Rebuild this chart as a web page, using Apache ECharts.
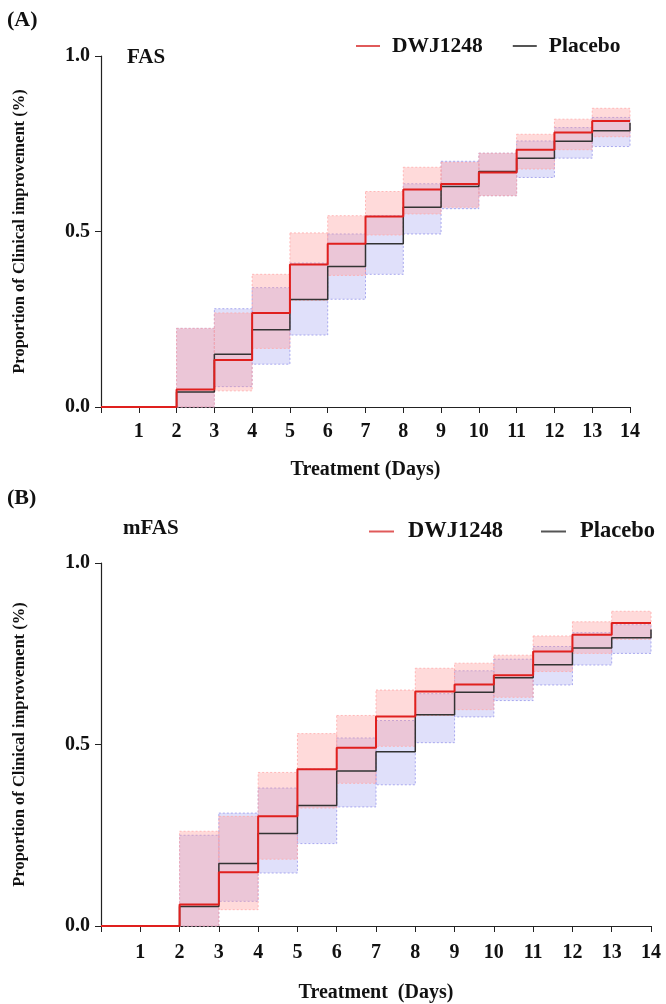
<!DOCTYPE html>
<html lang="en">

<head>
    <meta charset="UTF-8">
    <title>Clinical improvement</title>
    <script src="https://cdn.jsdelivr.net/npm/echarts@6/dist/echarts.min.js"></script>
    <style>
        body {
            margin: 0;
            background: #fff;
        }

        #main {
            width: 666px;
            height: 1004px;
        }
    </style>
</head>

<body>
    <div id="main"></div>
    <script>
        // 天数 0..14，每个值对应区间 [d, d+1)
        const days = [0, 1, 2, 3, 4, 5, 6, 7, 8, 9, 10, 11, 12, 13, 14];
        // 置信区间从第2天开始 (第2天..第13天)
        const ciDays = [2, 3, 4, 5, 6, 7, 8, 9, 10, 11, 12, 13];

        // (A) FAS
        const dwjA = [0, 0, 0.05, 0.134, 0.268, 0.406, 0.465, 0.543, 0.62, 0.635, 0.668, 0.733, 0.782, 0.815, 0.815];
        const plaA = [0, 0, 0.043, 0.15, 0.22, 0.306, 0.40, 0.465, 0.569, 0.628, 0.671, 0.709, 0.757, 0.787, 0.81];
        const dwjLoA = [0, 0.046, 0.167, 0.304, 0.375, 0.49, 0.55, 0.569, 0.602, 0.678, 0.733, 0.77];
        const dwjHiA = [0.224, 0.268, 0.378, 0.496, 0.545, 0.614, 0.683, 0.697, 0.723, 0.777, 0.82, 0.851];
        const plaLoA = [0, 0.058, 0.122, 0.205, 0.307, 0.378, 0.493, 0.565, 0.602, 0.654, 0.709, 0.742];
        const plaHiA = [0.224, 0.28, 0.34, 0.41, 0.493, 0.545, 0.636, 0.70, 0.723, 0.758, 0.796, 0.825];

        // (B) mFAS
        const dwjB = [0, 0, 0.059, 0.148, 0.302, 0.432, 0.491, 0.577, 0.646, 0.665, 0.691, 0.756, 0.802, 0.835, 0.835];
        const plaB = [0, 0, 0.054, 0.172, 0.255, 0.332, 0.427, 0.48, 0.582, 0.644, 0.684, 0.72, 0.766, 0.794, 0.817];
        const dwjLoB = [0, 0.045, 0.184, 0.325, 0.393, 0.495, 0.58, 0.596, 0.63, 0.701, 0.751, 0.79];
        const dwjHiB = [0.261, 0.302, 0.423, 0.53, 0.58, 0.65, 0.71, 0.724, 0.746, 0.799, 0.838, 0.867];
        const plaLoB = [0, 0.068, 0.146, 0.227, 0.328, 0.389, 0.505, 0.576, 0.621, 0.664, 0.719, 0.751];
        const plaHiB = [0.25, 0.311, 0.38, 0.432, 0.518, 0.566, 0.64, 0.703, 0.735, 0.77, 0.808, 0.83];

        const FONT = "'Liberation Serif', 'Times New Roman', serif";
        const RED = '#e0201e';
        const BLACK = '#333333';

        const chart = echarts.init(document.getElementById('main'), null, { renderer: 'canvas' });

        function pairs(xs, ys) {
            return xs.map((x, i) => [x, ys[i]]);
        }

        function bandData(lo, hi) {
            return ciDays.map((d, i) => [d, lo[i], hi[i]]);
        }

        // 每天画一个带点线边框的矩形
        function makeBand(fill, stroke) {
            return function (params, api) {
                const d = api.value(0);
                const p1 = api.coord([d, api.value(2)]);
                const p2 = api.coord([d + 1, api.value(1)]);
                return {
                    type: 'rect',
                    shape: { x: p1[0], y: p1[1], width: p2[0] - p1[0], height: p2[1] - p1[1] },
                    style: { fill: fill, stroke: stroke, lineWidth: 1, lineDash: [2, 2] }
                };
            };
        }

        function xAxis(gridIndex, name, margin, gap) {
            return {
                type: 'value', gridIndex: gridIndex, min: 0, max: 14, interval: 1,
                name: name, nameLocation: 'middle', nameGap: gap,
                nameTextStyle: { fontFamily: FONT, fontWeight: 'bold', fontSize: 20, color: '#111' },
                axisLine: { lineStyle: { color: '#222', width: 1.2 } },
                axisTick: { length: 6, lineStyle: { color: '#222' } },
                axisLabel: {
                    margin: margin, fontFamily: FONT, fontWeight: 'bold', fontSize: 20, color: '#111',
                    formatter: v => v === 0 ? '' : String(v)
                },
                splitLine: { show: false }
            };
        }

        function yAxis(gridIndex) {
            return {
                type: 'value', gridIndex: gridIndex, min: 0, max: 1, interval: 0.5,
                name: 'Proportion of Clinical improvement (%)', nameLocation: 'middle', nameGap: 73,
                nameTextStyle: { fontFamily: FONT, fontWeight: 'bold', fontSize: 16.5, color: '#111' },
                axisLine: { show: true, lineStyle: { color: '#222', width: 1.2 } },
                axisTick: { show: true, length: 6, lineStyle: { color: '#222' } },
                axisLabel: {
                    margin: 11, fontFamily: FONT, fontWeight: 'bold', fontSize: 20, color: '#111',
                    formatter: v => v.toFixed(1)
                },
                splitLine: { show: false }
            };
        }

        function panelSeries(idx, dwj, pla, dLo, dHi, pLo, pHi) {
            return [
                {
                    type: 'custom', xAxisIndex: idx, yAxisIndex: idx, silent: true,
                    renderItem: makeBand('rgba(100,100,230,0.2)', 'rgba(150,150,235,0.8)'),
                    data: bandData(pLo, pHi), z: 1
                },
                {
                    type: 'custom', xAxisIndex: idx, yAxisIndex: idx, silent: true,
                    renderItem: makeBand('rgba(255,150,150,0.35)', 'rgba(255,170,170,0.8)'),
                    data: bandData(dLo, dHi), z: 2
                },
                {
                    name: 'Placebo', type: 'line', step: 'end', xAxisIndex: idx, yAxisIndex: idx,
                    symbol: 'none', lineStyle: { color: BLACK, width: 1.5 }, itemStyle: { color: '#555' },
                    data: pairs(days, pla), z: 3
                },
                {
                    name: 'DWJ1248', type: 'line', step: 'end', xAxisIndex: idx, yAxisIndex: idx,
                    symbol: 'none', lineStyle: { color: RED, width: 2 }, itemStyle: { color: '#e05a5a' },
                    data: pairs(days, dwj), z: 4
                }
            ];
        }

        function legend(top, left, iconW, pad, gap, size) {
            return {
                top: top, left: left, icon: 'rect', itemWidth: iconW, itemHeight: 2, itemGap: gap,
                data: ['DWJ1248', 'Placebo'],
                textStyle: { fontFamily: FONT, fontWeight: 'bold', fontSize: size, color: '#111', padding: [0, 0, 0, pad] }
            };
        }

        const titleStyle = { fontFamily: FONT, fontWeight: 'bold', color: '#111' };

        chart.setOption({
            animation: false,
            title: [
                { text: '(A)', left: 2, top: 4, textStyle: Object.assign({ fontSize: 22 }, titleStyle) },
                { text: 'FAS', left: 122, top: 42, textStyle: Object.assign({ fontSize: 21 }, titleStyle) },
                { text: '(B)', left: 2, top: 482, textStyle: Object.assign({ fontSize: 22 }, titleStyle) },
                { text: 'mFAS', left: 118, top: 513, textStyle: Object.assign({ fontSize: 21 }, titleStyle) }
            ],
            legend: [legend(30, 351, 24, 7, 30, 21.5), legend(515, 364, 25, 9, 38, 22.5)],
            grid: [
                { left: 101, right: 36, top: 56, height: 351 },
                { left: 101, right: 15, top: 563, height: 366 }
            ],
            xAxis: [xAxis(0, 'Treatment (Days)', 15, 53), xAxis(1, 'Treatment  (Days)', 17, 57)],
            yAxis: [yAxis(0), yAxis(1)],
            series: [].concat(
                panelSeries(0, dwjA, plaA, dwjLoA, dwjHiA, plaLoA, plaHiA),
                panelSeries(1, dwjB, plaB, dwjLoB, dwjHiB, plaLoB, plaHiB)
            )
        });
    </script>
</body>

</html>
